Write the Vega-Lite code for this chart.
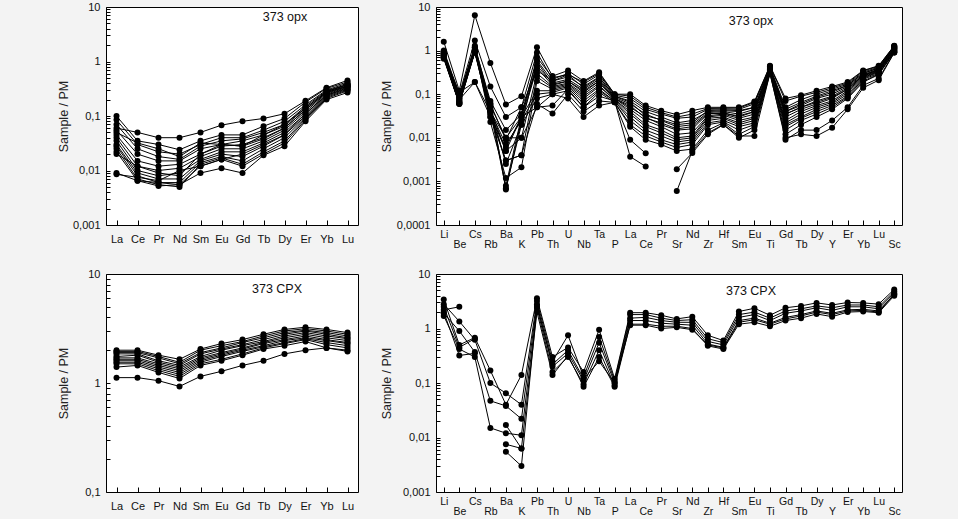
{
"$schema": "https://vega.github.io/schema/vega-lite/v6.json",
"padding": {"left": 56, "top": 0, "right": 55, "bottom": 2},
"background": "#f3f3f3",
"config": {
 "font": "Liberation Sans",
 "view": {"stroke": "#000", "strokeWidth": 1, "fill": "#fff"},
 "title": {"fontSize": 12.5, "fontWeight": "normal", "color": "#111", "font": "Liberation Sans", "anchor": "middle", "frame": "group", "baseline": "bottom"},
 "axis": {"zindex": 1, "domain": false, "grid": false, "ticks": true, "tickColor": "#000", "tickWidth": 1, "labelColor": "#111", "titleColor": "#222", "labelFont": "Liberation Sans", "titleFont": "Liberation Sans", "titleFontWeight": "normal", "titleFontSize": 12.5, "labelFontSize": 11, "labelOverlap": false}
},
"datasets": {
"tl": [
{"s":1,"e":"La","v":0.06},{"s":1,"e":"Ce","v":0.05},{"s":1,"e":"Pr","v":0.04},{"s":1,"e":"Nd","v":0.04},{"s":1,"e":"Sm","v":0.05},{"s":1,"e":"Eu","v":0.068},{"s":1,"e":"Gd","v":0.08},{"s":1,"e":"Tb","v":0.09},{"s":1,"e":"Dy","v":0.11},{"s":1,"e":"Er","v":0.19},{"s":1,"e":"Yb","v":0.33},{"s":1,"e":"Lu","v":0.45},
{"s":2,"e":"La","v":0.1},{"s":2,"e":"Ce","v":0.035},{"s":2,"e":"Pr","v":0.03},{"s":2,"e":"Nd","v":0.024},{"s":2,"e":"Sm","v":0.035},{"s":2,"e":"Eu","v":0.045},{"s":2,"e":"Gd","v":0.045},{"s":2,"e":"Tb","v":0.065},{"s":2,"e":"Dy","v":0.09},{"s":2,"e":"Er","v":0.18},{"s":2,"e":"Yb","v":0.32},{"s":2,"e":"Lu","v":0.42},
{"s":3,"e":"La","v":0.085},{"s":3,"e":"Ce","v":0.03},{"s":3,"e":"Pr","v":0.022},{"s":3,"e":"Nd","v":0.02},{"s":3,"e":"Sm","v":0.03},{"s":3,"e":"Eu","v":0.04},{"s":3,"e":"Gd","v":0.04},{"s":3,"e":"Tb","v":0.055},{"s":3,"e":"Dy","v":0.08},{"s":3,"e":"Er","v":0.16},{"s":3,"e":"Yb","v":0.3},{"s":3,"e":"Lu","v":0.4},
{"s":4,"e":"La","v":0.07},{"s":4,"e":"Ce","v":0.025},{"s":4,"e":"Pr","v":0.018},{"s":4,"e":"Nd","v":0.016},{"s":4,"e":"Sm","v":0.028},{"s":4,"e":"Eu","v":0.035},{"s":4,"e":"Gd","v":0.038},{"s":4,"e":"Tb","v":0.05},{"s":4,"e":"Dy","v":0.07},{"s":4,"e":"Er","v":0.15},{"s":4,"e":"Yb","v":0.29},{"s":4,"e":"Lu","v":0.38},
{"s":5,"e":"La","v":0.055},{"s":5,"e":"Ce","v":0.02},{"s":5,"e":"Pr","v":0.015},{"s":5,"e":"Nd","v":0.015},{"s":5,"e":"Sm","v":0.025},{"s":5,"e":"Eu","v":0.03},{"s":5,"e":"Gd","v":0.035},{"s":5,"e":"Tb","v":0.045},{"s":5,"e":"Dy","v":0.065},{"s":5,"e":"Er","v":0.14},{"s":5,"e":"Yb","v":0.28},{"s":5,"e":"Lu","v":0.37},
{"s":6,"e":"La","v":0.045},{"s":6,"e":"Ce","v":0.015},{"s":6,"e":"Pr","v":0.012},{"s":6,"e":"Nd","v":0.013},{"s":6,"e":"Sm","v":0.02},{"s":6,"e":"Eu","v":0.028},{"s":6,"e":"Gd","v":0.03},{"s":6,"e":"Tb","v":0.04},{"s":6,"e":"Dy","v":0.06},{"s":6,"e":"Er","v":0.13},{"s":6,"e":"Yb","v":0.27},{"s":6,"e":"Lu","v":0.36},
{"s":7,"e":"La","v":0.04},{"s":7,"e":"Ce","v":0.012},{"s":7,"e":"Pr","v":0.01},{"s":7,"e":"Nd","v":0.011},{"s":7,"e":"Sm","v":0.018},{"s":7,"e":"Eu","v":0.025},{"s":7,"e":"Gd","v":0.025},{"s":7,"e":"Tb","v":0.035},{"s":7,"e":"Dy","v":0.055},{"s":7,"e":"Er","v":0.12},{"s":7,"e":"Yb","v":0.26},{"s":7,"e":"Lu","v":0.35},
{"s":8,"e":"La","v":0.035},{"s":8,"e":"Ce","v":0.01},{"s":8,"e":"Pr","v":0.008},{"s":8,"e":"Nd","v":0.009},{"s":8,"e":"Sm","v":0.016},{"s":8,"e":"Eu","v":0.022},{"s":8,"e":"Gd","v":0.022},{"s":8,"e":"Tb","v":0.032},{"s":8,"e":"Dy","v":0.05},{"s":8,"e":"Er","v":0.11},{"s":8,"e":"Yb","v":0.25},{"s":8,"e":"Lu","v":0.34},
{"s":9,"e":"La","v":0.03},{"s":9,"e":"Ce","v":0.009},{"s":9,"e":"Pr","v":0.007},{"s":9,"e":"Nd","v":0.007},{"s":9,"e":"Sm","v":0.015},{"s":9,"e":"Eu","v":0.02},{"s":9,"e":"Gd","v":0.018},{"s":9,"e":"Tb","v":0.028},{"s":9,"e":"Dy","v":0.045},{"s":9,"e":"Er","v":0.1},{"s":9,"e":"Yb","v":0.24},{"s":9,"e":"Lu","v":0.33},
{"s":10,"e":"La","v":0.028},{"s":10,"e":"Ce","v":0.008},{"s":10,"e":"Pr","v":0.006},{"s":10,"e":"Nd","v":0.006},{"s":10,"e":"Sm","v":0.014},{"s":10,"e":"Eu","v":0.018},{"s":10,"e":"Gd","v":0.015},{"s":10,"e":"Tb","v":0.025},{"s":10,"e":"Dy","v":0.04},{"s":10,"e":"Er","v":0.095},{"s":10,"e":"Yb","v":0.23},{"s":10,"e":"Lu","v":0.31},
{"s":11,"e":"La","v":0.025},{"s":11,"e":"Ce","v":0.007},{"s":11,"e":"Pr","v":0.0055},{"s":11,"e":"Nd","v":0.005},{"s":11,"e":"Sm","v":0.013},{"s":11,"e":"Eu","v":0.017},{"s":11,"e":"Gd","v":0.013},{"s":11,"e":"Tb","v":0.022},{"s":11,"e":"Dy","v":0.035},{"s":11,"e":"Er","v":0.09},{"s":11,"e":"Yb","v":0.22},{"s":11,"e":"Lu","v":0.3},
{"s":12,"e":"La","v":0.022},{"s":12,"e":"Ce","v":0.0065},{"s":12,"e":"Pr","v":0.0052},{"s":12,"e":"Nd","v":0.0055},{"s":12,"e":"Sm","v":0.012},{"s":12,"e":"Eu","v":0.016},{"s":12,"e":"Gd","v":0.012},{"s":12,"e":"Tb","v":0.02},{"s":12,"e":"Dy","v":0.032},{"s":12,"e":"Er","v":0.085},{"s":12,"e":"Yb","v":0.21},{"s":12,"e":"Lu","v":0.29},
{"s":13,"e":"La","v":0.02},{"s":13,"e":"Ce","v":0.012},{"s":13,"e":"Pr","v":0.009},{"s":13,"e":"Nd","v":0.008},{"s":13,"e":"Sm","v":0.02},{"s":13,"e":"Eu","v":0.03},{"s":13,"e":"Gd","v":0.028},{"s":13,"e":"Tb","v":0.038},{"s":13,"e":"Dy","v":0.06},{"s":13,"e":"Er","v":0.13},{"s":13,"e":"Yb","v":0.27},{"s":13,"e":"Lu","v":0.35},
{"s":14,"e":"La","v":0.009},{"s":14,"e":"Ce","v":0.0065},{"s":14,"e":"Pr","v":0.006},{"s":14,"e":"Nd","v":0.0055},{"s":14,"e":"Sm","v":0.009},{"s":14,"e":"Eu","v":0.011},{"s":14,"e":"Gd","v":0.009},{"s":14,"e":"Tb","v":0.019},{"s":14,"e":"Dy","v":0.028},{"s":14,"e":"Er","v":0.08},{"s":14,"e":"Yb","v":0.2},{"s":14,"e":"Lu","v":0.27},
{"s":15,"e":"La","v":0.0085},{"s":15,"e":"Ce","v":0.0075},{"s":15,"e":"Pr","v":0.0065},{"s":15,"e":"Nd","v":0.01},{"s":15,"e":"Sm","v":0.012},{"s":15,"e":"Eu","v":0.016},{"s":15,"e":"Gd","v":0.02},{"s":15,"e":"Tb","v":0.03},{"s":15,"e":"Dy","v":0.045},{"s":15,"e":"Er","v":0.11},{"s":15,"e":"Yb","v":0.24},{"s":15,"e":"Lu","v":0.32},
{"s":16,"e":"La","v":0.05},{"s":16,"e":"Ce","v":0.032},{"s":16,"e":"Pr","v":0.025},{"s":16,"e":"Nd","v":0.018},{"s":16,"e":"Sm","v":0.032},{"s":16,"e":"Eu","v":0.03},{"s":16,"e":"Gd","v":0.028},{"s":16,"e":"Tb","v":0.045},{"s":16,"e":"Dy","v":0.07},{"s":16,"e":"Er","v":0.14},{"s":16,"e":"Yb","v":0.28},{"s":16,"e":"Lu","v":0.38}
],
"bl": [
{"s":1,"e":"La","v":2.0},{"s":1,"e":"Ce","v":2.0},{"s":1,"e":"Pr","v":1.8},{"s":1,"e":"Nd","v":1.65},{"s":1,"e":"Sm","v":2.05},{"s":1,"e":"Eu","v":2.3},{"s":1,"e":"Gd","v":2.5},{"s":1,"e":"Tb","v":2.8},{"s":1,"e":"Dy","v":3.1},{"s":1,"e":"Er","v":3.25},{"s":1,"e":"Yb","v":3.1},{"s":1,"e":"Lu","v":2.9},
{"s":2,"e":"La","v":1.95},{"s":2,"e":"Ce","v":1.95},{"s":2,"e":"Pr","v":1.75},{"s":2,"e":"Nd","v":1.55},{"s":2,"e":"Sm","v":2.0},{"s":2,"e":"Eu","v":2.2},{"s":2,"e":"Gd","v":2.4},{"s":2,"e":"Tb","v":2.7},{"s":2,"e":"Dy","v":3.0},{"s":2,"e":"Er","v":3.15},{"s":2,"e":"Yb","v":3.0},{"s":2,"e":"Lu","v":2.8},
{"s":3,"e":"La","v":1.9},{"s":3,"e":"Ce","v":1.9},{"s":3,"e":"Pr","v":1.7},{"s":3,"e":"Nd","v":1.5},{"s":3,"e":"Sm","v":1.9},{"s":3,"e":"Eu","v":2.1},{"s":3,"e":"Gd","v":2.35},{"s":3,"e":"Tb","v":2.6},{"s":3,"e":"Dy","v":2.9},{"s":3,"e":"Er","v":3.05},{"s":3,"e":"Yb","v":2.9},{"s":3,"e":"Lu","v":2.7},
{"s":4,"e":"La","v":1.85},{"s":4,"e":"Ce","v":1.85},{"s":4,"e":"Pr","v":1.6},{"s":4,"e":"Nd","v":1.45},{"s":4,"e":"Sm","v":1.85},{"s":4,"e":"Eu","v":2.05},{"s":4,"e":"Gd","v":2.25},{"s":4,"e":"Tb","v":2.5},{"s":4,"e":"Dy","v":2.8},{"s":4,"e":"Er","v":3.0},{"s":4,"e":"Yb","v":2.8},{"s":4,"e":"Lu","v":2.6},
{"s":5,"e":"La","v":1.75},{"s":5,"e":"Ce","v":1.8},{"s":5,"e":"Pr","v":1.55},{"s":5,"e":"Nd","v":1.4},{"s":5,"e":"Sm","v":1.75},{"s":5,"e":"Eu","v":2.0},{"s":5,"e":"Gd","v":2.2},{"s":5,"e":"Tb","v":2.4},{"s":5,"e":"Dy","v":2.7},{"s":5,"e":"Er","v":2.9},{"s":5,"e":"Yb","v":2.7},{"s":5,"e":"Lu","v":2.55},
{"s":6,"e":"La","v":1.7},{"s":6,"e":"Ce","v":1.7},{"s":6,"e":"Pr","v":1.5},{"s":6,"e":"Nd","v":1.35},{"s":6,"e":"Sm","v":1.7},{"s":6,"e":"Eu","v":1.9},{"s":6,"e":"Gd","v":2.1},{"s":6,"e":"Tb","v":2.35},{"s":6,"e":"Dy","v":2.6},{"s":6,"e":"Er","v":2.8},{"s":6,"e":"Yb","v":2.6},{"s":6,"e":"Lu","v":2.45},
{"s":7,"e":"La","v":1.65},{"s":7,"e":"Ce","v":1.65},{"s":7,"e":"Pr","v":1.45},{"s":7,"e":"Nd","v":1.3},{"s":7,"e":"Sm","v":1.65},{"s":7,"e":"Eu","v":1.85},{"s":7,"e":"Gd","v":2.05},{"s":7,"e":"Tb","v":2.3},{"s":7,"e":"Dy","v":2.5},{"s":7,"e":"Er","v":2.7},{"s":7,"e":"Yb","v":2.5},{"s":7,"e":"Lu","v":2.35},
{"s":8,"e":"La","v":1.6},{"s":8,"e":"Ce","v":1.6},{"s":8,"e":"Pr","v":1.4},{"s":8,"e":"Nd","v":1.25},{"s":8,"e":"Sm","v":1.6},{"s":8,"e":"Eu","v":1.8},{"s":8,"e":"Gd","v":2.0},{"s":8,"e":"Tb","v":2.2},{"s":8,"e":"Dy","v":2.45},{"s":8,"e":"Er","v":2.6},{"s":8,"e":"Yb","v":2.45},{"s":8,"e":"Lu","v":2.3},
{"s":9,"e":"La","v":1.55},{"s":9,"e":"Ce","v":1.55},{"s":9,"e":"Pr","v":1.35},{"s":9,"e":"Nd","v":1.2},{"s":9,"e":"Sm","v":1.55},{"s":9,"e":"Eu","v":1.75},{"s":9,"e":"Gd","v":1.95},{"s":9,"e":"Tb","v":2.15},{"s":9,"e":"Dy","v":2.35},{"s":9,"e":"Er","v":2.55},{"s":9,"e":"Yb","v":2.35},{"s":9,"e":"Lu","v":2.2},
{"s":10,"e":"La","v":1.5},{"s":10,"e":"Ce","v":1.5},{"s":10,"e":"Pr","v":1.3},{"s":10,"e":"Nd","v":1.15},{"s":10,"e":"Sm","v":1.5},{"s":10,"e":"Eu","v":1.65},{"s":10,"e":"Gd","v":1.85},{"s":10,"e":"Tb","v":2.1},{"s":10,"e":"Dy","v":2.3},{"s":10,"e":"Er","v":2.5},{"s":10,"e":"Yb","v":2.25},{"s":10,"e":"Lu","v":2.1},
{"s":11,"e":"La","v":1.4},{"s":11,"e":"Ce","v":1.45},{"s":11,"e":"Pr","v":1.25},{"s":11,"e":"Nd","v":1.1},{"s":11,"e":"Sm","v":1.45},{"s":11,"e":"Eu","v":1.6},{"s":11,"e":"Gd","v":1.8},{"s":11,"e":"Tb","v":2.05},{"s":11,"e":"Dy","v":2.2},{"s":11,"e":"Er","v":2.4},{"s":11,"e":"Yb","v":2.1},{"s":11,"e":"Lu","v":1.95},
{"s":12,"e":"La","v":1.12},{"s":12,"e":"Ce","v":1.12},{"s":12,"e":"Pr","v":1.05},{"s":12,"e":"Nd","v":0.93},{"s":12,"e":"Sm","v":1.15},{"s":12,"e":"Eu","v":1.28},{"s":12,"e":"Gd","v":1.45},{"s":12,"e":"Tb","v":1.6},{"s":12,"e":"Dy","v":1.85},{"s":12,"e":"Er","v":2.0},{"s":12,"e":"Yb","v":2.1},{"s":12,"e":"Lu","v":2.0}
],
"tr": [
{"s":1,"e":"Li","v":1.6},{"s":1,"e":"Be","v":0.12},{"s":1,"e":"Cs","v":6.5},{"s":1,"e":"Rb","v":0.52},{"s":1,"e":"Ba","v":0.058},{"s":1,"e":"K","v":0.09},{"s":1,"e":"Pb","v":1.2},{"s":1,"e":"Th","v":0.26},{"s":1,"e":"U","v":0.35},{"s":1,"e":"Nb","v":0.2},{"s":1,"e":"Ta","v":0.32},{"s":1,"e":"P","v":0.1},{"s":1,"e":"La","v":0.1},{"s":1,"e":"Ce","v":0.055},{"s":1,"e":"Pr","v":0.042},{"s":1,"e":"Sr","v":0.034},{"s":1,"e":"Nd","v":0.042},{"s":1,"e":"Zr","v":0.05},{"s":1,"e":"Hf","v":0.05},{"s":1,"e":"Sm","v":0.05},{"s":1,"e":"Eu","v":0.068},{"s":1,"e":"Ti","v":0.45},{"s":1,"e":"Gd","v":0.08},{"s":1,"e":"Tb","v":0.095},{"s":1,"e":"Dy","v":0.12},{"s":1,"e":"Y","v":0.15},{"s":1,"e":"Er","v":0.19},{"s":1,"e":"Yb","v":0.35},{"s":1,"e":"Lu","v":0.45},{"s":1,"e":"Sc","v":1.3},
{"s":2,"e":"Li","v":1.0},{"s":2,"e":"Be","v":0.1},{"s":2,"e":"Cs","v":1.7},{"s":2,"e":"Rb","v":0.15},{"s":2,"e":"Ba","v":0.03},{"s":2,"e":"K","v":0.05},{"s":2,"e":"Pb","v":0.9},{"s":2,"e":"Th","v":0.22},{"s":2,"e":"U","v":0.3},{"s":2,"e":"Nb","v":0.17},{"s":2,"e":"Ta","v":0.28},{"s":2,"e":"P","v":0.095},{"s":2,"e":"La","v":0.08},{"s":2,"e":"Ce","v":0.045},{"s":2,"e":"Pr","v":0.035},{"s":2,"e":"Sr","v":0.028},{"s":2,"e":"Nd","v":0.03},{"s":2,"e":"Zr","v":0.045},{"s":2,"e":"Hf","v":0.046},{"s":2,"e":"Sm","v":0.045},{"s":2,"e":"Eu","v":0.06},{"s":2,"e":"Ti","v":0.42},{"s":2,"e":"Gd","v":0.05},{"s":2,"e":"Tb","v":0.075},{"s":2,"e":"Dy","v":0.1},{"s":2,"e":"Y","v":0.13},{"s":2,"e":"Er","v":0.17},{"s":2,"e":"Yb","v":0.32},{"s":2,"e":"Lu","v":0.42},{"s":2,"e":"Sc","v":1.25},
{"s":3,"e":"Li","v":0.9},{"s":3,"e":"Be","v":0.09},{"s":3,"e":"Cs","v":1.2},{"s":3,"e":"Rb","v":0.07},{"s":3,"e":"Ba","v":0.015},{"s":3,"e":"K","v":0.035},{"s":3,"e":"Pb","v":0.6},{"s":3,"e":"Th","v":0.2},{"s":3,"e":"U","v":0.25},{"s":3,"e":"Nb","v":0.15},{"s":3,"e":"Ta","v":0.25},{"s":3,"e":"P","v":0.09},{"s":3,"e":"La","v":0.07},{"s":3,"e":"Ce","v":0.04},{"s":3,"e":"Pr","v":0.03},{"s":3,"e":"Sr","v":0.022},{"s":3,"e":"Nd","v":0.025},{"s":3,"e":"Zr","v":0.04},{"s":3,"e":"Hf","v":0.042},{"s":3,"e":"Sm","v":0.04},{"s":3,"e":"Eu","v":0.05},{"s":3,"e":"Ti","v":0.4},{"s":3,"e":"Gd","v":0.045},{"s":3,"e":"Tb","v":0.065},{"s":3,"e":"Dy","v":0.09},{"s":3,"e":"Y","v":0.12},{"s":3,"e":"Er","v":0.16},{"s":3,"e":"Yb","v":0.3},{"s":3,"e":"Lu","v":0.4},{"s":3,"e":"Sc","v":1.2},
{"s":4,"e":"Li","v":0.85},{"s":4,"e":"Be","v":0.08},{"s":4,"e":"Cs","v":0.9},{"s":4,"e":"Rb","v":0.055},{"s":4,"e":"Ba","v":0.01},{"s":4,"e":"K","v":0.03},{"s":4,"e":"Pb","v":0.45},{"s":4,"e":"Th","v":0.18},{"s":4,"e":"U","v":0.22},{"s":4,"e":"Nb","v":0.13},{"s":4,"e":"Ta","v":0.22},{"s":4,"e":"P","v":0.085},{"s":4,"e":"La","v":0.06},{"s":4,"e":"Ce","v":0.035},{"s":4,"e":"Pr","v":0.025},{"s":4,"e":"Sr","v":0.018},{"s":4,"e":"Nd","v":0.02},{"s":4,"e":"Zr","v":0.038},{"s":4,"e":"Hf","v":0.04},{"s":4,"e":"Sm","v":0.035},{"s":4,"e":"Eu","v":0.045},{"s":4,"e":"Ti","v":0.38},{"s":4,"e":"Gd","v":0.04},{"s":4,"e":"Tb","v":0.055},{"s":4,"e":"Dy","v":0.08},{"s":4,"e":"Y","v":0.1},{"s":4,"e":"Er","v":0.15},{"s":4,"e":"Yb","v":0.28},{"s":4,"e":"Lu","v":0.38},{"s":4,"e":"Sc","v":1.15},
{"s":5,"e":"Li","v":0.8},{"s":5,"e":"Be","v":0.075},{"s":5,"e":"Cs","v":0.19},{"s":5,"e":"Rb","v":0.04},{"s":5,"e":"Ba","v":0.007},{"s":5,"e":"K","v":0.025},{"s":5,"e":"Pb","v":0.4},{"s":5,"e":"Th","v":0.16},{"s":5,"e":"U","v":0.2},{"s":5,"e":"Nb","v":0.12},{"s":5,"e":"Ta","v":0.2},{"s":5,"e":"P","v":0.08},{"s":5,"e":"La","v":0.05},{"s":5,"e":"Ce","v":0.03},{"s":5,"e":"Pr","v":0.02},{"s":5,"e":"Sr","v":0.015},{"s":5,"e":"Nd","v":0.016},{"s":5,"e":"Zr","v":0.035},{"s":5,"e":"Hf","v":0.038},{"s":5,"e":"Sm","v":0.03},{"s":5,"e":"Eu","v":0.04},{"s":5,"e":"Ti","v":0.37},{"s":5,"e":"Gd","v":0.035},{"s":5,"e":"Tb","v":0.05},{"s":5,"e":"Dy","v":0.07},{"s":5,"e":"Y","v":0.09},{"s":5,"e":"Er","v":0.14},{"s":5,"e":"Yb","v":0.27},{"s":5,"e":"Lu","v":0.36},{"s":5,"e":"Sc","v":1.1},
{"s":6,"e":"Li","v":0.75},{"s":6,"e":"Be","v":0.07},{"s":6,"e":"Cs","v":1.0},{"s":6,"e":"Rb","v":0.035},{"s":6,"e":"Ba","v":0.005},{"s":6,"e":"K","v":0.01},{"s":6,"e":"Pb","v":0.3},{"s":6,"e":"Th","v":0.15},{"s":6,"e":"U","v":0.18},{"s":6,"e":"Nb","v":0.1},{"s":6,"e":"Ta","v":0.18},{"s":6,"e":"P","v":0.08},{"s":6,"e":"La","v":0.045},{"s":6,"e":"Ce","v":0.025},{"s":6,"e":"Pr","v":0.018},{"s":6,"e":"Sr","v":0.012},{"s":6,"e":"Nd","v":0.013},{"s":6,"e":"Zr","v":0.032},{"s":6,"e":"Hf","v":0.035},{"s":6,"e":"Sm","v":0.028},{"s":6,"e":"Eu","v":0.035},{"s":6,"e":"Ti","v":0.36},{"s":6,"e":"Gd","v":0.03},{"s":6,"e":"Tb","v":0.045},{"s":6,"e":"Dy","v":0.06},{"s":6,"e":"Y","v":0.08},{"s":6,"e":"Er","v":0.13},{"s":6,"e":"Yb","v":0.26},{"s":6,"e":"Lu","v":0.35},{"s":6,"e":"Sc","v":1.1},
{"s":7,"e":"Li","v":0.7},{"s":7,"e":"Be","v":0.065},{"s":7,"e":"Cs","v":0.95},{"s":7,"e":"Rb","v":0.03},{"s":7,"e":"Ba","v":0.003},{"s":7,"e":"K","v":0.004},{"s":7,"e":"Pb","v":0.25},{"s":7,"e":"Th","v":0.14},{"s":7,"e":"U","v":0.17},{"s":7,"e":"Nb","v":0.09},{"s":7,"e":"Ta","v":0.16},{"s":7,"e":"P","v":0.075},{"s":7,"e":"La","v":0.04},{"s":7,"e":"Ce","v":0.02},{"s":7,"e":"Pr","v":0.015},{"s":7,"e":"Sr","v":0.01},{"s":7,"e":"Nd","v":0.011},{"s":7,"e":"Zr","v":0.03},{"s":7,"e":"Hf","v":0.033},{"s":7,"e":"Sm","v":0.025},{"s":7,"e":"Eu","v":0.03},{"s":7,"e":"Ti","v":0.35},{"s":7,"e":"Gd","v":0.025},{"s":7,"e":"Tb","v":0.04},{"s":7,"e":"Dy","v":0.055},{"s":7,"e":"Y","v":0.07},{"s":7,"e":"Er","v":0.12},{"s":7,"e":"Yb","v":0.25},{"s":7,"e":"Lu","v":0.34},{"s":7,"e":"Sc","v":1.05},
{"s":8,"e":"Li","v":0.68},{"s":8,"e":"Be","v":0.06},{"s":8,"e":"Cs","v":1.1},{"s":8,"e":"Rb","v":0.023},{"s":8,"e":"Ba","v":0.0012},{"s":8,"e":"K","v":0.0021},{"s":8,"e":"Pb","v":0.2},{"s":8,"e":"Th","v":0.13},{"s":8,"e":"U","v":0.16},{"s":8,"e":"Nb","v":0.08},{"s":8,"e":"Ta","v":0.15},{"s":8,"e":"P","v":0.075},{"s":8,"e":"La","v":0.035},{"s":8,"e":"Ce","v":0.018},{"s":8,"e":"Pr","v":0.013},{"s":8,"e":"Sr","v":0.009},{"s":8,"e":"Nd","v":0.01},{"s":8,"e":"Zr","v":0.028},{"s":8,"e":"Hf","v":0.03},{"s":8,"e":"Sm","v":0.022},{"s":8,"e":"Eu","v":0.028},{"s":8,"e":"Ti","v":0.34},{"s":8,"e":"Gd","v":0.022},{"s":8,"e":"Tb","v":0.035},{"s":8,"e":"Dy","v":0.05},{"s":8,"e":"Y","v":0.065},{"s":8,"e":"Er","v":0.11},{"s":8,"e":"Yb","v":0.24},{"s":8,"e":"Lu","v":0.33},{"s":8,"e":"Sc","v":1.0},
{"s":9,"e":"Li","v":0.8},{"s":9,"e":"Be","v":0.07},{"s":9,"e":"Cs","v":0.95},{"s":9,"e":"Rb","v":0.05},{"s":9,"e":"Ba","v":0.0008},{"s":9,"e":"K","v":0.03},{"s":9,"e":"Pb","v":0.12},{"s":9,"e":"Th","v":0.12},{"s":9,"e":"U","v":0.15},{"s":9,"e":"Nb","v":0.07},{"s":9,"e":"Ta","v":0.13},{"s":9,"e":"P","v":0.07},{"s":9,"e":"La","v":0.03},{"s":9,"e":"Ce","v":0.015},{"s":9,"e":"Pr","v":0.011},{"s":9,"e":"Sr","v":0.008},{"s":9,"e":"Nd","v":0.009},{"s":9,"e":"Zr","v":0.025},{"s":9,"e":"Hf","v":0.028},{"s":9,"e":"Sm","v":0.02},{"s":9,"e":"Eu","v":0.025},{"s":9,"e":"Ti","v":0.33},{"s":9,"e":"Gd","v":0.02},{"s":9,"e":"Tb","v":0.03},{"s":9,"e":"Dy","v":0.045},{"s":9,"e":"Y","v":0.06},{"s":9,"e":"Er","v":0.1},{"s":9,"e":"Yb","v":0.23},{"s":9,"e":"Lu","v":0.32},{"s":9,"e":"Sc","v":1.0},
{"s":10,"e":"Li","v":0.9},{"s":10,"e":"Be","v":0.08},{"s":10,"e":"Cs","v":1.0},{"s":10,"e":"Rb","v":0.06},{"s":10,"e":"Ba","v":0.00065},{"s":10,"e":"K","v":0.025},{"s":10,"e":"Pb","v":0.1},{"s":10,"e":"Th","v":0.11},{"s":10,"e":"U","v":0.14},{"s":10,"e":"Nb","v":0.06},{"s":10,"e":"Ta","v":0.12},{"s":10,"e":"P","v":0.07},{"s":10,"e":"La","v":0.025},{"s":10,"e":"Ce","v":0.013},{"s":10,"e":"Pr","v":0.009},{"s":10,"e":"Sr","v":0.007},{"s":10,"e":"Nd","v":0.008},{"s":10,"e":"Zr","v":0.022},{"s":10,"e":"Hf","v":0.025},{"s":10,"e":"Sm","v":0.018},{"s":10,"e":"Eu","v":0.022},{"s":10,"e":"Ti","v":0.32},{"s":10,"e":"Gd","v":0.018},{"s":10,"e":"Tb","v":0.028},{"s":10,"e":"Dy","v":0.04},{"s":10,"e":"Y","v":0.055},{"s":10,"e":"Er","v":0.09},{"s":10,"e":"Yb","v":0.22},{"s":10,"e":"Lu","v":0.3},{"s":10,"e":"Sc","v":0.95},
{"s":11,"e":"Li","v":0.75},{"s":11,"e":"Be","v":0.065},{"s":11,"e":"Cs","v":1.0},{"s":11,"e":"Rb","v":0.045},{"s":11,"e":"Ba","v":0.005},{"s":11,"e":"K","v":0.03},{"s":11,"e":"Pb","v":0.05},{"s":11,"e":"Th","v":0.055},{"s":11,"e":"U","v":0.13},{"s":11,"e":"Nb","v":0.05},{"s":11,"e":"Ta","v":0.11},{"s":11,"e":"P","v":0.065},{"s":11,"e":"La","v":0.02},{"s":11,"e":"Ce","v":0.011},{"s":11,"e":"Pr","v":0.008},{"s":11,"e":"Sr","v":0.006},{"s":11,"e":"Nd","v":0.007},{"s":11,"e":"Zr","v":0.02},{"s":11,"e":"Hf","v":0.023},{"s":11,"e":"Sm","v":0.015},{"s":11,"e":"Eu","v":0.02},{"s":11,"e":"Ti","v":0.32},{"s":11,"e":"Gd","v":0.015},{"s":11,"e":"Tb","v":0.025},{"s":11,"e":"Dy","v":0.035},{"s":11,"e":"Y","v":0.05},{"s":11,"e":"Er","v":0.085},{"s":11,"e":"Yb","v":0.2},{"s":11,"e":"Lu","v":0.29},{"s":11,"e":"Sc","v":0.95},
{"s":12,"e":"Li","v":0.7},{"s":12,"e":"Be","v":0.06},{"s":12,"e":"Cs","v":0.9},{"s":12,"e":"Rb","v":0.035},{"s":12,"e":"Ba","v":0.003},{"s":12,"e":"K","v":0.004},{"s":12,"e":"Pb","v":0.06},{"s":12,"e":"Th","v":0.036},{"s":12,"e":"U","v":0.1},{"s":12,"e":"Nb","v":0.04},{"s":12,"e":"Ta","v":0.07},{"s":12,"e":"P","v":0.065},{"s":12,"e":"La","v":0.018},{"s":12,"e":"Ce","v":0.009},{"s":12,"e":"Pr","v":0.007},{"s":12,"e":"Sr","v":0.005},{"s":12,"e":"Nd","v":0.0055},{"s":12,"e":"Zr","v":0.015},{"s":12,"e":"Hf","v":0.022},{"s":12,"e":"Sm","v":0.012},{"s":12,"e":"Eu","v":0.018},{"s":12,"e":"Ti","v":0.31},{"s":12,"e":"Gd","v":0.012},{"s":12,"e":"Tb","v":0.02},{"s":12,"e":"Dy","v":0.03},{"s":12,"e":"Y","v":0.045},{"s":12,"e":"Er","v":0.08},{"s":12,"e":"Yb","v":0.19},{"s":12,"e":"Lu","v":0.28},{"s":12,"e":"Sc","v":0.92},
{"s":13,"e":"Li","v":0.65},{"s":13,"e":"Be","v":0.06},{"s":13,"e":"Cs","v":0.95},{"s":13,"e":"Rb","v":0.04},{"s":13,"e":"Ba","v":0.01},{"s":13,"e":"K","v":0.01},{"s":13,"e":"Pb","v":0.05},{"s":13,"e":"Th","v":0.1},{"s":13,"e":"U","v":0.08},{"s":13,"e":"Nb","v":0.03},{"s":13,"e":"Ta","v":0.055},{"s":13,"e":"P","v":0.065},{"s":13,"e":"La","v":0.009},{"s":13,"e":"Ce","v":0.0044},{"s":13,"e":"Pr","v":null},{"s":13,"e":"Sr","v":0.0019},{"s":13,"e":"Nd","v":0.0045},{"s":13,"e":"Zr","v":0.012},{"s":13,"e":"Hf","v":0.02},{"s":13,"e":"Sm","v":0.01},{"s":13,"e":"Eu","v":0.015},{"s":13,"e":"Ti","v":0.3},{"s":13,"e":"Gd","v":0.01},{"s":13,"e":"Tb","v":0.012},{"s":13,"e":"Dy","v":0.011},{"s":13,"e":"Y","v":0.017},{"s":13,"e":"Er","v":0.045},{"s":13,"e":"Yb","v":0.14},{"s":13,"e":"Lu","v":0.21},{"s":13,"e":"Sc","v":0.9},
{"s":14,"e":"Li","v":0.7},{"s":14,"e":"Be","v":0.06},{"s":14,"e":"Cs","v":0.95},{"s":14,"e":"Rb","v":0.04},{"s":14,"e":"Ba","v":0.0007},{"s":14,"e":"K","v":0.02},{"s":14,"e":"Pb","v":0.08},{"s":14,"e":"Th","v":0.1},{"s":14,"e":"U","v":0.12},{"s":14,"e":"Nb","v":0.05},{"s":14,"e":"Ta","v":0.09},{"s":14,"e":"P","v":0.07},{"s":14,"e":"La","v":0.0037},{"s":14,"e":"Ce","v":0.0022},{"s":14,"e":"Pr","v":null},{"s":14,"e":"Sr","v":0.0006},{"s":14,"e":"Nd","v":0.005},{"s":14,"e":"Zr","v":0.013},{"s":14,"e":"Hf","v":0.02},{"s":14,"e":"Sm","v":0.011},{"s":14,"e":"Eu","v":0.011},{"s":14,"e":"Ti","v":0.3},{"s":14,"e":"Gd","v":0.009},{"s":14,"e":"Tb","v":0.015},{"s":14,"e":"Dy","v":0.015},{"s":14,"e":"Y","v":0.025},{"s":14,"e":"Er","v":0.05},{"s":14,"e":"Yb","v":0.16},{"s":14,"e":"Lu","v":0.23},{"s":14,"e":"Sc","v":0.9},
{"s":15,"e":"Li","v":0.78},{"s":15,"e":"Be","v":0.11},{"s":15,"e":"Cs","v":0.19},{"s":15,"e":"Rb","v":0.03},{"s":15,"e":"Ba","v":0.006},{"s":15,"e":"K","v":0.03},{"s":15,"e":"Pb","v":0.7},{"s":15,"e":"Th","v":0.24},{"s":15,"e":"U","v":0.28},{"s":15,"e":"Nb","v":0.19},{"s":15,"e":"Ta","v":0.3},{"s":15,"e":"P","v":0.1},{"s":15,"e":"La","v":0.09},{"s":15,"e":"Ce","v":0.05},{"s":15,"e":"Pr","v":0.038},{"s":15,"e":"Sr","v":0.03},{"s":15,"e":"Nd","v":0.035},{"s":15,"e":"Zr","v":0.047},{"s":15,"e":"Hf","v":0.048},{"s":15,"e":"Sm","v":0.048},{"s":15,"e":"Eu","v":0.065},{"s":15,"e":"Ti","v":0.44},{"s":15,"e":"Gd","v":0.07},{"s":15,"e":"Tb","v":0.09},{"s":15,"e":"Dy","v":0.11},{"s":15,"e":"Y","v":0.14},{"s":15,"e":"Er","v":0.18},{"s":15,"e":"Yb","v":0.34},{"s":15,"e":"Lu","v":0.44},{"s":15,"e":"Sc","v":1.28},
{"s":16,"e":"Li","v":0.95},{"s":16,"e":"Be","v":0.09},{"s":16,"e":"Cs","v":1.3},{"s":16,"e":"Rb","v":0.06},{"s":16,"e":"Ba","v":0.009},{"s":16,"e":"K","v":0.05},{"s":16,"e":"Pb","v":0.35},{"s":16,"e":"Th","v":0.2},{"s":16,"e":"U","v":0.28},{"s":16,"e":"Nb","v":0.14},{"s":16,"e":"Ta","v":0.24},{"s":16,"e":"P","v":0.09},{"s":16,"e":"La","v":0.065},{"s":16,"e":"Ce","v":0.032},{"s":16,"e":"Pr","v":0.026},{"s":16,"e":"Sr","v":0.02},{"s":16,"e":"Nd","v":0.022},{"s":16,"e":"Zr","v":0.042},{"s":16,"e":"Hf","v":0.044},{"s":16,"e":"Sm","v":0.042},{"s":16,"e":"Eu","v":0.05},{"s":16,"e":"Ti","v":0.4},{"s":16,"e":"Gd","v":0.04},{"s":16,"e":"Tb","v":0.06},{"s":16,"e":"Dy","v":0.085},{"s":16,"e":"Y","v":0.11},{"s":16,"e":"Er","v":0.16},{"s":16,"e":"Yb","v":0.3},{"s":16,"e":"Lu","v":0.4},{"s":16,"e":"Sc","v":1.2},
{"s":17,"e":"Li","v":0.85},{"s":17,"e":"Be","v":0.085},{"s":17,"e":"Cs","v":1.2},{"s":17,"e":"Rb","v":0.05},{"s":17,"e":"Ba","v":0.0025},{"s":17,"e":"K","v":0.02},{"s":17,"e":"Pb","v":0.55},{"s":17,"e":"Th","v":0.17},{"s":17,"e":"U","v":0.2},{"s":17,"e":"Nb","v":0.11},{"s":17,"e":"Ta","v":0.2},{"s":17,"e":"P","v":0.08},{"s":17,"e":"La","v":0.055},{"s":17,"e":"Ce","v":0.028},{"s":17,"e":"Pr","v":0.022},{"s":17,"e":"Sr","v":0.016},{"s":17,"e":"Nd","v":0.018},{"s":17,"e":"Zr","v":0.036},{"s":17,"e":"Hf","v":0.036},{"s":17,"e":"Sm","v":0.032},{"s":17,"e":"Eu","v":0.04},{"s":17,"e":"Ti","v":0.38},{"s":17,"e":"Gd","v":0.035},{"s":17,"e":"Tb","v":0.05},{"s":17,"e":"Dy","v":0.065},{"s":17,"e":"Y","v":0.085},{"s":17,"e":"Er","v":0.13},{"s":17,"e":"Yb","v":0.27},{"s":17,"e":"Lu","v":0.37},{"s":17,"e":"Sc","v":1.1}
],
"br": [
{"s":1,"e":"Li","v":3.4},{"s":1,"e":"Be","v":0.5},{"s":1,"e":"Cs","v":0.68},{"s":1,"e":"Rb","v":0.17},{"s":1,"e":"Ba","v":0.04},{"s":1,"e":"K","v":0.14},{"s":1,"e":"Pb","v":3.6},{"s":1,"e":"Th","v":0.3},{"s":1,"e":"U","v":0.45},{"s":1,"e":"Nb","v":0.16},{"s":1,"e":"Ta","v":0.95},{"s":1,"e":"P","v":0.12},{"s":1,"e":"La","v":1.95},{"s":1,"e":"Ce","v":1.95},{"s":1,"e":"Pr","v":1.75},{"s":1,"e":"Sr","v":1.5},{"s":1,"e":"Nd","v":1.65},{"s":1,"e":"Zr","v":0.75},{"s":1,"e":"Hf","v":0.6},{"s":1,"e":"Sm","v":2.05},{"s":1,"e":"Eu","v":2.35},{"s":1,"e":"Ti","v":1.75},{"s":1,"e":"Gd","v":2.4},{"s":1,"e":"Tb","v":2.6},{"s":1,"e":"Dy","v":2.95},{"s":1,"e":"Y","v":2.7},{"s":1,"e":"Er","v":3.0},{"s":1,"e":"Yb","v":2.95},{"s":1,"e":"Lu","v":2.8},{"s":1,"e":"Sc","v":5.2},
{"s":2,"e":"Li","v":2.8},{"s":2,"e":"Be","v":1.35},{"s":2,"e":"Cs","v":0.62},{"s":2,"e":"Rb","v":0.1},{"s":2,"e":"Ba","v":0.065},{"s":2,"e":"K","v":0.04},{"s":2,"e":"Pb","v":3.2},{"s":2,"e":"Th","v":0.25},{"s":2,"e":"U","v":0.75},{"s":2,"e":"Nb","v":0.13},{"s":2,"e":"Ta","v":0.7},{"s":2,"e":"P","v":0.11},{"s":2,"e":"La","v":1.8},{"s":2,"e":"Ce","v":1.8},{"s":2,"e":"Pr","v":1.55},{"s":2,"e":"Sr","v":1.4},{"s":2,"e":"Nd","v":1.45},{"s":2,"e":"Zr","v":0.65},{"s":2,"e":"Hf","v":0.55},{"s":2,"e":"Sm","v":1.8},{"s":2,"e":"Eu","v":2.0},{"s":2,"e":"Ti","v":1.55},{"s":2,"e":"Gd","v":2.1},{"s":2,"e":"Tb","v":2.3},{"s":2,"e":"Dy","v":2.6},{"s":2,"e":"Y","v":2.4},{"s":2,"e":"Er","v":2.7},{"s":2,"e":"Yb","v":2.7},{"s":2,"e":"Lu","v":2.5},{"s":2,"e":"Sc","v":4.8},
{"s":3,"e":"Li","v":1.9},{"s":3,"e":"Be","v":0.9},{"s":3,"e":"Cs","v":0.37},{"s":3,"e":"Rb","v":0.047},{"s":3,"e":"Ba","v":0.038},{"s":3,"e":"K","v":0.022},{"s":3,"e":"Pb","v":2.8},{"s":3,"e":"Th","v":0.2},{"s":3,"e":"U","v":0.35},{"s":3,"e":"Nb","v":0.11},{"s":3,"e":"Ta","v":0.55},{"s":3,"e":"P","v":0.1},{"s":3,"e":"La","v":1.55},{"s":3,"e":"Ce","v":1.6},{"s":3,"e":"Pr","v":1.4},{"s":3,"e":"Sr","v":1.3},{"s":3,"e":"Nd","v":1.3},{"s":3,"e":"Zr","v":0.58},{"s":3,"e":"Hf","v":0.5},{"s":3,"e":"Sm","v":1.6},{"s":3,"e":"Eu","v":1.8},{"s":3,"e":"Ti","v":1.4},{"s":3,"e":"Gd","v":1.9},{"s":3,"e":"Tb","v":2.1},{"s":3,"e":"Dy","v":2.4},{"s":3,"e":"Y","v":2.15},{"s":3,"e":"Er","v":2.5},{"s":3,"e":"Yb","v":2.5},{"s":3,"e":"Lu","v":2.3},{"s":3,"e":"Sc","v":4.5},
{"s":4,"e":"Li","v":1.7},{"s":4,"e":"Be","v":0.42},{"s":4,"e":"Cs","v":0.3},{"s":4,"e":"Rb","v":0.015},{"s":4,"e":"Ba","v":0.012},{"s":4,"e":"K","v":0.011},{"s":4,"e":"Pb","v":2.4},{"s":4,"e":"Th","v":0.16},{"s":4,"e":"U","v":0.3},{"s":4,"e":"Nb","v":0.095},{"s":4,"e":"Ta","v":0.4},{"s":4,"e":"P","v":0.09},{"s":4,"e":"La","v":1.4},{"s":4,"e":"Ce","v":1.4},{"s":4,"e":"Pr","v":1.25},{"s":4,"e":"Sr","v":1.2},{"s":4,"e":"Nd","v":1.15},{"s":4,"e":"Zr","v":0.52},{"s":4,"e":"Hf","v":0.45},{"s":4,"e":"Sm","v":1.4},{"s":4,"e":"Eu","v":1.55},{"s":4,"e":"Ti","v":1.25},{"s":4,"e":"Gd","v":1.6},{"s":4,"e":"Tb","v":1.8},{"s":4,"e":"Dy","v":2.1},{"s":4,"e":"Y","v":1.9},{"s":4,"e":"Er","v":2.2},{"s":4,"e":"Yb","v":2.25},{"s":4,"e":"Lu","v":2.1},{"s":4,"e":"Sc","v":4.2},
{"s":5,"e":"Li","v":2.0},{"s":5,"e":"Be","v":0.32},{"s":5,"e":"Cs","v":0.35},{"s":5,"e":"Rb","v":null},{"s":5,"e":"Ba","v":0.017},{"s":5,"e":"K","v":0.0063},{"s":5,"e":"Pb","v":2.0},{"s":5,"e":"Th","v":0.14},{"s":5,"e":"U","v":0.32},{"s":5,"e":"Nb","v":0.085},{"s":5,"e":"Ta","v":0.3},{"s":5,"e":"P","v":0.085},{"s":5,"e":"La","v":1.2},{"s":5,"e":"Ce","v":1.2},{"s":5,"e":"Pr","v":1.1},{"s":5,"e":"Sr","v":1.1},{"s":5,"e":"Nd","v":1.0},{"s":5,"e":"Zr","v":0.48},{"s":5,"e":"Hf","v":0.42},{"s":5,"e":"Sm","v":1.2},{"s":5,"e":"Eu","v":1.3},{"s":5,"e":"Ti","v":1.1},{"s":5,"e":"Gd","v":1.4},{"s":5,"e":"Tb","v":1.55},{"s":5,"e":"Dy","v":1.85},{"s":5,"e":"Y","v":1.65},{"s":5,"e":"Er","v":2.0},{"s":5,"e":"Yb","v":2.05},{"s":5,"e":"Lu","v":1.95},{"s":5,"e":"Sc","v":4.0},
{"s":6,"e":"Li","v":2.5},{"s":6,"e":"Be","v":0.45},{"s":6,"e":"Cs","v":0.65},{"s":6,"e":"Rb","v":null},{"s":6,"e":"Ba","v":0.0055},{"s":6,"e":"K","v":0.003},{"s":6,"e":"Pb","v":2.6},{"s":6,"e":"Th","v":0.22},{"s":6,"e":"U","v":0.4},{"s":6,"e":"Nb","v":0.12},{"s":6,"e":"Ta","v":0.25},{"s":6,"e":"P","v":0.1},{"s":6,"e":"La","v":1.15},{"s":6,"e":"Ce","v":1.15},{"s":6,"e":"Pr","v":1.0},{"s":6,"e":"Sr","v":1.05},{"s":6,"e":"Nd","v":0.95},{"s":6,"e":"Zr","v":0.5},{"s":6,"e":"Hf","v":0.44},{"s":6,"e":"Sm","v":1.3},{"s":6,"e":"Eu","v":1.45},{"s":6,"e":"Ti","v":1.2},{"s":6,"e":"Gd","v":1.5},{"s":6,"e":"Tb","v":1.7},{"s":6,"e":"Dy","v":2.0},{"s":6,"e":"Y","v":1.8},{"s":6,"e":"Er","v":2.1},{"s":6,"e":"Yb","v":2.15},{"s":6,"e":"Lu","v":2.0},{"s":6,"e":"Sc","v":4.3},
{"s":7,"e":"Li","v":2.2},{"s":7,"e":"Be","v":2.5},
{"s":8,"e":"Ba","v":0.0075},{"s":8,"e":"K","v":0.0063}
]
},
"concat": [
{
 "width": 252, "height": 218,
 "title": {"text": "373 opx", "offset": -22, "dx": 53},
 "data": {"name": "tl"},
 "encoding": {
  "x": {"field": "e", "type": "nominal", "scale": {"type": "point", "padding": 0.5, "domain": ["La","Ce","Pr","Nd","Sm","Eu","Gd","Tb","Dy","Er","Yb","Lu"]}, "axis": {"title": null, "labelAngle": 0, "tickSize": 5, "offset": -5, "labelPadding": 8, "labelFontSize": 11}},
  "y": {"field": "v", "type": "quantitative", "scale": {"type": "log", "domain": [0.001, 10], "nice": false}, "axis": {"title": "Sample / PM", "titleX": -47, "titleY": 109, "titleAngle": -90, "titleAlign": "center", "titleBaseline": "middle", "values": [0.001,0.002,0.003,0.004,0.005,0.006,0.007,0.008,0.009,0.01,0.02,0.03,0.04,0.05,0.06,0.07,0.08,0.09,0.1,0.2,0.3,0.4,0.5,0.6,0.7,0.8,0.9,1,2,3,4,5,6,7,8,9,10], "labelExpr": "abs(log(datum.value)/LN10 - round(log(datum.value)/LN10)) < 0.001 ? replace(datum.value + '', '.', ',') : ''", "tickSize": 4, "offset": -4, "labelPadding": 6}}
 },
 "layer": [
  {"data": {"values": [{}]}, "mark": {"type": "rule", "color": "#333", "strokeWidth": 1}, "encoding": {"x": null, "y": {"datum": 1}}},
  {"mark": {"type": "line", "color": "#000", "strokeWidth": 1, "invalid": "break-paths-filter-domains"}, "encoding": {"detail": {"field": "s"}, "order": {"value": null}}},
  {"mark": {"type": "circle", "color": "#000", "size": 36, "opacity": 1}}
 ]
},
{
 "width": 466, "height": 218,
 "title": {"text": "373 opx", "offset": -26, "dx": 82},
 "data": {"name": "tr"},
 "encoding": {
  "x": {"field": "e", "type": "nominal", "scale": {"type": "point", "padding": 0.5, "domain": ["Li","Be","Cs","Rb","Ba","K","Pb","Th","U","Nb","Ta","P","La","Ce","Pr","Sr","Nd","Zr","Hf","Sm","Eu","Ti","Gd","Tb","Dy","Y","Er","Yb","Lu","Sc"]}, "axis": {"title": null, "labelAngle": 0, "tickSize": 5, "offset": -5, "labelFontSize": 10.5, "labelPadding": {"condition": {"test": "indexof(['Be','Rb','K','Th','Nb','P','Ce','Sr','Zr','Sm','Ti','Tb','Y','Yb','Sc'], datum.value) >= 0", "value": 14}, "value": 4}}},
  "y": {"field": "v", "type": "quantitative", "scale": {"type": "log", "domain": [0.0001, 10], "nice": false}, "axis": {"title": "Sample / PM", "titleX": -54, "titleY": 109, "titleAngle": -90, "titleAlign": "center", "titleBaseline": "middle", "values": [0.0001,0.0002,0.0003,0.0004,0.0005,0.0006,0.0007,0.0008,0.0009,0.001,0.002,0.003,0.004,0.005,0.006,0.007,0.008,0.009,0.01,0.02,0.03,0.04,0.05,0.06,0.07,0.08,0.09,0.1,0.2,0.3,0.4,0.5,0.6,0.7,0.8,0.9,1,2,3,4,5,6,7,8,9,10], "labelExpr": "abs(log(datum.value)/LN10 - round(log(datum.value)/LN10)) < 0.001 ? replace(datum.value + '', '.', ',') : ''", "tickSize": 4, "offset": -4, "labelPadding": 6}}
 },
 "layer": [
  {"data": {"values": [{}]}, "mark": {"type": "rule", "color": "#333", "strokeWidth": 1}, "encoding": {"x": null, "y": {"datum": 1}}},
  {"mark": {"type": "line", "color": "#000", "strokeWidth": 1, "invalid": "break-paths-filter-domains"}, "encoding": {"detail": {"field": "s"}, "order": {"value": null}}},
  {"mark": {"type": "circle", "color": "#000", "size": 36, "opacity": 1}}
 ]
},
{
 "width": 252, "height": 218,
 "title": {"text": "373 CPX", "offset": -27, "dx": 45},
 "data": {"name": "bl"},
 "encoding": {
  "x": {"field": "e", "type": "nominal", "scale": {"type": "point", "padding": 0.5, "domain": ["La","Ce","Pr","Nd","Sm","Eu","Gd","Tb","Dy","Er","Yb","Lu"]}, "axis": {"title": null, "labelAngle": 0, "tickSize": 5, "offset": -5, "labelPadding": 8, "labelFontSize": 11}},
  "y": {"field": "v", "type": "quantitative", "scale": {"type": "log", "domain": [0.1, 10], "nice": false}, "axis": {"title": "Sample / PM", "titleX": -47, "titleY": 109, "titleAngle": -90, "titleAlign": "center", "titleBaseline": "middle", "values": [0.1,0.2,0.3,0.4,0.5,0.6,0.7,0.8,0.9,1,2,3,4,5,6,7,8,9,10], "labelExpr": "abs(log(datum.value)/LN10 - round(log(datum.value)/LN10)) < 0.001 ? replace(datum.value + '', '.', ',') : ''", "tickSize": 4, "offset": -4, "labelPadding": 6}}
 },
 "layer": [
  {"data": {"values": [{}]}, "mark": {"type": "rule", "color": "#333", "strokeWidth": 1}, "encoding": {"x": null, "y": {"datum": 1}}},
  {"mark": {"type": "line", "color": "#000", "strokeWidth": 1, "invalid": "break-paths-filter-domains"}, "encoding": {"detail": {"field": "s"}, "order": {"value": null}}},
  {"mark": {"type": "circle", "color": "#000", "size": 36, "opacity": 1}}
 ]
},
{
 "width": 466, "height": 218,
 "title": {"text": "373 CPX", "offset": -29, "dx": 82},
 "data": {"name": "br"},
 "encoding": {
  "x": {"field": "e", "type": "nominal", "scale": {"type": "point", "padding": 0.5, "domain": ["Li","Be","Cs","Rb","Ba","K","Pb","Th","U","Nb","Ta","P","La","Ce","Pr","Sr","Nd","Zr","Hf","Sm","Eu","Ti","Gd","Tb","Dy","Y","Er","Yb","Lu","Sc"]}, "axis": {"title": null, "labelAngle": 0, "tickSize": 5, "offset": -5, "labelFontSize": 10.5, "labelPadding": {"condition": {"test": "indexof(['Be','Rb','K','Th','Nb','P','Ce','Sr','Zr','Sm','Ti','Tb','Y','Yb','Sc'], datum.value) >= 0", "value": 14}, "value": 4}}},
  "y": {"field": "v", "type": "quantitative", "scale": {"type": "log", "domain": [0.001, 10], "nice": false}, "axis": {"title": "Sample / PM", "titleX": -54, "titleY": 109, "titleAngle": -90, "titleAlign": "center", "titleBaseline": "middle", "values": [0.001,0.002,0.003,0.004,0.005,0.006,0.007,0.008,0.009,0.01,0.02,0.03,0.04,0.05,0.06,0.07,0.08,0.09,0.1,0.2,0.3,0.4,0.5,0.6,0.7,0.8,0.9,1,2,3,4,5,6,7,8,9,10], "labelExpr": "abs(log(datum.value)/LN10 - round(log(datum.value)/LN10)) < 0.001 ? replace(datum.value + '', '.', ',') : ''", "tickSize": 4, "offset": -4, "labelPadding": 6}}
 },
 "layer": [
  {"data": {"values": [{}]}, "mark": {"type": "rule", "color": "#333", "strokeWidth": 1}, "encoding": {"x": null, "y": {"datum": 1}}},
  {"mark": {"type": "line", "color": "#000", "strokeWidth": 1, "invalid": "break-paths-filter-domains"}, "encoding": {"detail": {"field": "s"}, "order": {"value": null}}},
  {"mark": {"type": "circle", "color": "#000", "size": 36, "opacity": 1}}
 ]
}
],
"columns": 2,
"spacing": {"row": 49, "column": 78},
"bounds": "flush"
}
